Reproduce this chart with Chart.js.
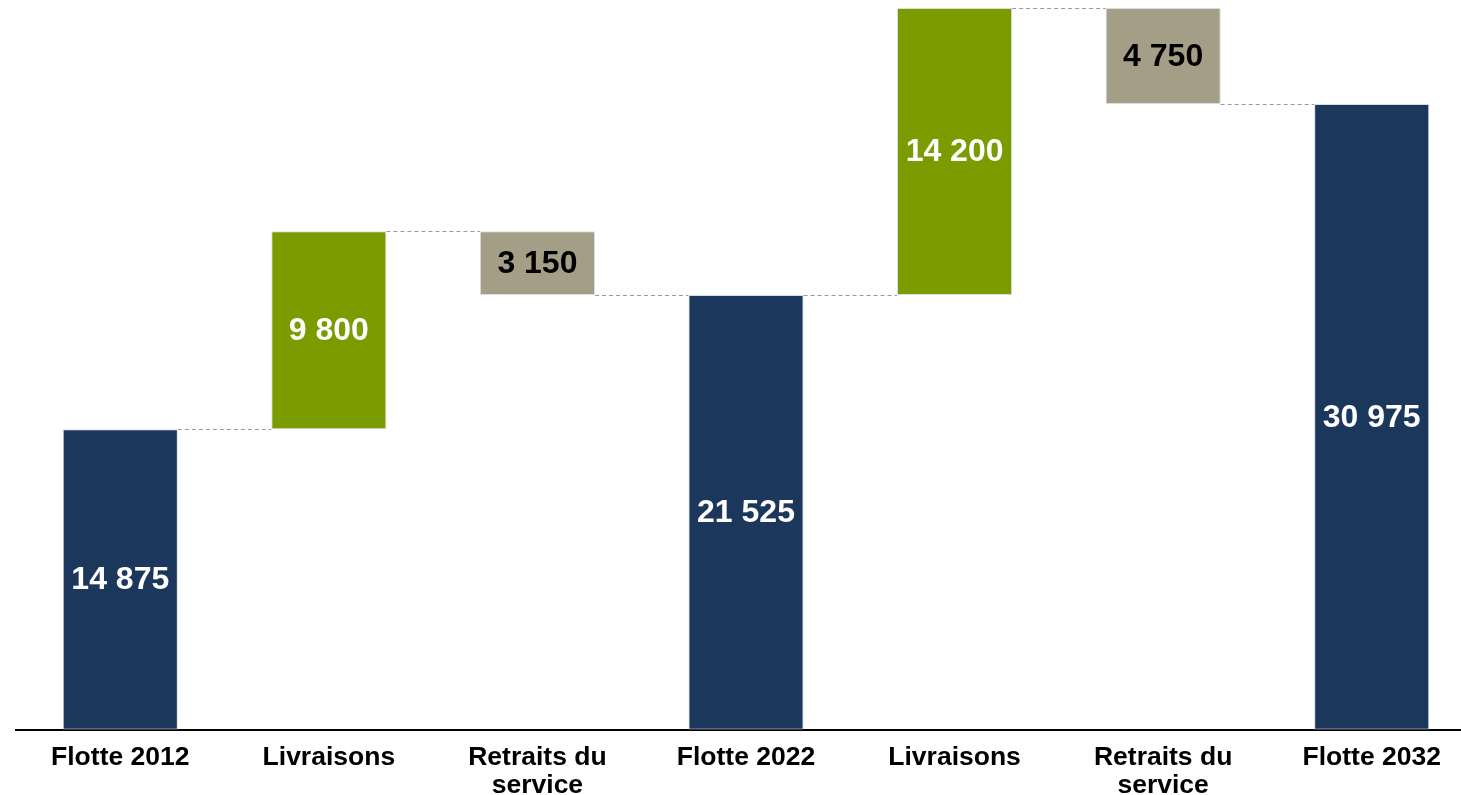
<!DOCTYPE html>
<html>
<head>
<meta charset="utf-8">
<script src="https://cdn.jsdelivr.net/npm/chart.js@4/dist/chart.umd.min.js"></script>
<style>
  html, body { margin: 0; padding: 0; background: #fff; overflow: hidden; }
  #wrap { width: 1461px; height: 795px; overflow: hidden; }
</style>
</head>
<body>
<div id="wrap"><canvas id="chart" width="1478" height="814"></canvas></div>
<script>
// waterfall data
const categories = ['Flotte 2012', 'Livraisons', ['Retraits du', 'service'], 'Flotte 2022', 'Livraisons', ['Retraits du', 'service'], 'Flotte 2032'];
const changes = [14875, 9800, -3150, 21525, 14200, -4750, 30975];
const kinds = ['total', 'up', 'down', 'total', 'up', 'down', 'total'];

const colors = { total: '#1b375c', up: '#7a9c00', down: '#a59e86' };
const labelColors = { total: '#ffffff', up: '#ffffff', down: '#000000' };

// turn changes into floating bars [low, high]
let run = 0;
const ranges = changes.map((v, i) => {
    if (kinds[i] === 'total') {
        run = v;
        return [0, v];
    }
    const start = run;
    run = run + v;
    return [Math.min(start, run), Math.max(start, run)];
});
// level of the running total after each bar
const levels = ranges.map((r, i) => kinds[i] === 'down' ? r[0] : r[1]);

function fmt(v) {
    return String(Math.abs(v)).replace(/\B(?=(\d{3})+(?!\d))/g, ' ');
}

// dashed lines between bars
const connectors = {
    id: 'connectors',
    beforeDatasetsDraw(chart) {
        const ctx = chart.ctx;
        const bars = chart.getDatasetMeta(0).data;
        const y = chart.scales.y;
        ctx.save();
        ctx.strokeStyle = '#8c9cb4';
        ctx.lineWidth = 1;
        ctx.setLineDash([4, 3]);
        for (let i = 0; i < bars.length - 1; i++) {
            const a = bars[i], b = bars[i + 1];
            const py = Math.round(y.getPixelForValue(levels[i])) + 0.5;
            ctx.beginPath();
            ctx.moveTo(a.x + a.width / 2, py);
            ctx.lineTo(b.x - b.width / 2, py);
            ctx.stroke();
        }
        ctx.restore();
    }
};

// value labels in the middle of each bar
const valueLabels = {
    id: 'valueLabels',
    afterDatasetsDraw(chart) {
        const ctx = chart.ctx;
        const bars = chart.getDatasetMeta(0).data;
        ctx.save();
        ctx.font = 'bold 32px "Liberation Sans", Arial, sans-serif';
        ctx.textAlign = 'center';
        ctx.textBaseline = 'middle';
        bars.forEach((bar, i) => {
            ctx.fillStyle = labelColors[kinds[i]];
            ctx.fillText(fmt(changes[i]), bar.x, (bar.y + bar.base) / 2 + 1);
        });
        ctx.restore();
    }
};

new Chart(document.getElementById('chart').getContext('2d'), {
    type: 'bar',
    data: {
        labels: categories,
        datasets: [{
            data: ranges,
            backgroundColor: kinds.map(k => colors[k]),
            borderColor: 'rgba(200, 206, 214, 0.7)',
            borderWidth: 1,
            borderSkipped: false,
            barPercentage: 0.552,
            categoryPercentage: 1
        }]
    },
    options: {
        responsive: false,
        animation: false,
        layout: { padding: { left: 16, right: 2, top: 8, bottom: 0 } },
        plugins: {
            legend: { display: false },
            tooltip: { enabled: false }
        },
        scales: {
            x: {
                grid: { display: false, drawTicks: false },
                border: { display: true, color: '#000000', width: 2 },
                ticks: {
                    color: '#000000',
                    padding: 14,
                    maxRotation: 0,
                    autoSkip: false,
                    font: { family: '"Liberation Sans", Arial, sans-serif', size: 26.5, weight: 'bold', lineHeight: 1.06 }
                }
            },
            y: {
                display: false,
                min: 0,
                max: 35725
            }
        }
    },
    plugins: [connectors, valueLabels]
});
</script>
</body>
</html>
